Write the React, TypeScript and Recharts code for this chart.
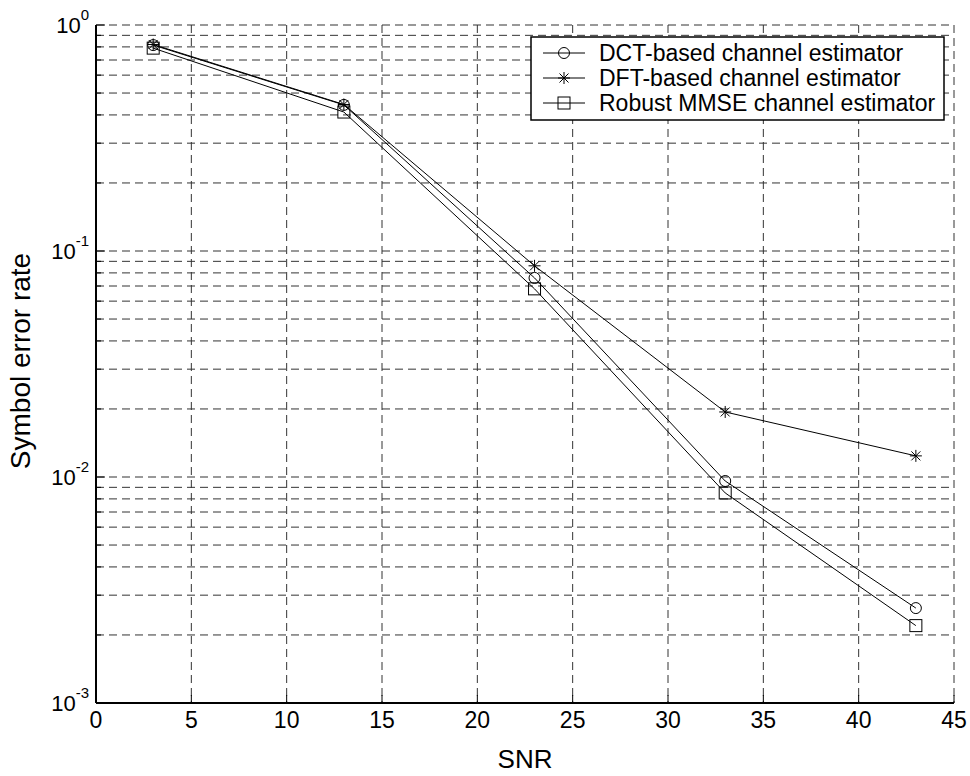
import { LineChart, Line, XAxis, YAxis, CartesianGrid, Legend } from 'recharts';

const FONT = '"Liberation Sans", Arial, Helvetica, sans-serif';

// SNR points and symbol error rates
const snr = [3, 13, 23, 33, 43];
const dctSer = [0.815, 0.443, 0.076, 0.0096, 0.00263];
const dftSer = [0.82, 0.445, 0.086, 0.0194, 0.0124];
const mmseSer = [0.79, 0.412, 0.068, 0.0085, 0.0022];

const xTicks = [0, 5, 10, 15, 20, 25, 30, 35, 40, 45];
const yTicks = [
  0.001, 0.002, 0.003, 0.004, 0.005, 0.006, 0.007, 0.008, 0.009,
  0.01, 0.02, 0.03, 0.04, 0.05, 0.06, 0.07, 0.08, 0.09,
  0.1, 0.2, 0.3, 0.4, 0.5, 0.6, 0.7, 0.8, 0.9,
  1,
];

const seriesNames = [
  'DCT-based channel estimator',
  'DFT-based channel estimator',
  'Robust MMSE channel estimator',
];

const data = snr.map((s, i) => ({ snr: s, dct: dctSer[i], dft: dftSer[i], mmse: mmseSer[i] }));

const isDecade = (v: number) => {
  const lg = Math.log10(v);
  return Math.abs(lg - Math.round(lg)) < 1e-9;
};

// markers
const circleMark = (cx: number, cy: number, key?: any) => (
  <circle key={key} cx={cx} cy={cy} r={5.5} fill="none" stroke="#000" strokeWidth={1} />
);
const squareMark = (cx: number, cy: number, key?: any) => (
  <rect key={key} x={cx - 6} y={cy - 6} width={12} height={12} fill="none" stroke="#000" strokeWidth={1} />
);
const starMark = (cx: number, cy: number, key?: any) => (
  <g key={key} stroke="#000" strokeWidth={1}>
    <line x1={cx - 6} y1={cy} x2={cx + 6} y2={cy} />
    <line x1={cx} y1={cy - 6} x2={cx} y2={cy + 6} />
    <line x1={cx - 4.5} y1={cy - 4.5} x2={cx + 4.5} y2={cy + 4.5} />
    <line x1={cx - 4.5} y1={cy + 4.5} x2={cx + 4.5} y2={cy - 4.5} />
  </g>
);

const markers = [circleMark, starMark, squareMark];

const dotOf = (mark: typeof circleMark) => (p: any) => {
  if (p.cx == null || p.cy == null) return <g key={p.key ?? p.index} />;
  return mark(p.cx, p.cy, p.key ?? `d${p.index}`);
};

function LeftTick(props: any) {
  const { x, y, payload } = props;
  const v = payload.value;
  const major = isDecade(v);
  const ex = Math.round(Math.log10(v));
  return (
    <g>
      <line x1={x} y1={y} x2={x + (major ? 9 : 5)} y2={y} stroke="#000" />
      {major && (
        <text x={x - 7} y={y + 8} textAnchor="end" fontSize={22} fontFamily={FONT} fill="#000">
          10
          <tspan dy={-13} fontSize={15}>
            {String(ex)}
          </tspan>
        </text>
      )}
    </g>
  );
}

function RightTick(props: any) {
  const { x, y, payload } = props;
  const major = isDecade(payload.value);
  return <line x1={x} y1={y} x2={x - (major ? 9 : 5)} y2={y} stroke="#000" />;
}

function BottomTick(props: any) {
  const { x, y, payload } = props;
  return (
    <g>
      <line x1={x} y1={y} x2={x} y2={y - 8} stroke="#000" />
      <text x={x} y={y + 25} textAnchor="middle" fontSize={23} fontFamily={FONT} fill="#000">
        {payload.value}
      </text>
    </g>
  );
}

function TopTick(props: any) {
  const { x, y } = props;
  return <line x1={x} y1={y} x2={x} y2={y + 8} stroke="#000" />;
}

function LegendBox() {
  const rows = [17, 42, 67];
  return (
    <svg width={416} height={86} style={{ display: 'block' }}>
      <rect x={1} y={1} width={413} height={83} fill="#fff" stroke="#000" strokeWidth={1.5} />
      {seriesNames.map((name, i) => (
        <g key={name}>
          <line x1={13} y1={rows[i]} x2={55} y2={rows[i]} stroke="#000" />
          {markers[i](34, rows[i])}
          <text x={69} y={rows[i] + 8} fontSize={23} fontFamily={FONT} fill="#000">
            {name}
          </text>
        </g>
      ))}
    </svg>
  );
}

export default function App() {
  return (
    <div style={{ width: 970, height: 776, position: 'absolute', left: 0, top: 0, background: '#fff' }}>
      <LineChart width={970} height={776} data={data} margin={{ top: 25, right: 16, left: 36, bottom: 0 }}>
        <CartesianGrid stroke="#333" strokeDasharray="8 5" strokeWidth={1} />
        <XAxis
          dataKey="snr"
          type="number"
          domain={[0, 45]}
          ticks={xTicks}
          interval={0}
          height={73}
          tickSize={0}
          tickMargin={0}
          tickLine={false}
          tick={<BottomTick />}
          axisLine={{ stroke: '#000', strokeWidth: 2 }}
          label={{ value: 'SNR', position: 'insideBottom', offset: 8, fontSize: 26, fontFamily: FONT, fill: '#000' }}
        />
        <XAxis
          xAxisId="top"
          orientation="top"
          dataKey="snr"
          type="number"
          domain={[0, 45]}
          ticks={xTicks}
          interval={0}
          height={0}
          tickSize={0}
          tickMargin={0}
          tickLine={false}
          tick={<TopTick />}
          axisLine={{ stroke: '#000', strokeWidth: 2 }}
        />
        <YAxis
          type="number"
          scale="log"
          domain={[0.001, 1]}
          allowDataOverflow
          ticks={yTicks}
          interval={0}
          width={60}
          tickSize={0}
          tickMargin={0}
          tickLine={false}
          tick={<LeftTick />}
          axisLine={{ stroke: '#000', strokeWidth: 2 }}
          label={{
            content: (p: any) => {
              const vb = p.viewBox || { x: 36, y: 25, width: 60, height: 678 };
              const cy = vb.y + vb.height / 2 - 3;
              return (
                <text
                  x={30}
                  y={cy}
                  transform={`rotate(-90 30 ${cy})`}
                  textAnchor="middle"
                  fontSize={28}
                  fontFamily={FONT}
                  fill="#000"
                >
                  Symbol error rate
                </text>
              );
            },
          }}
        />
        <YAxis
          yAxisId="right"
          orientation="right"
          type="number"
          scale="log"
          domain={[0.001, 1]}
          allowDataOverflow
          ticks={yTicks}
          interval={0}
          width={0}
          tickSize={0}
          tickMargin={0}
          tickLine={false}
          tick={<RightTick />}
          axisLine={{ stroke: '#000', strokeWidth: 2 }}
        />
        <Legend
          layout="vertical"
          align="center"
          verticalAlign="middle"
          content={() => <LegendBox />}
          wrapperStyle={{ left: 530, top: 36, width: 416, height: 86 }}
        />
        <Line
          dataKey="mmse"
          name={seriesNames[2]}
          stroke="#000"
          strokeWidth={1}
          dot={dotOf(squareMark)}
          activeDot={false}
          isAnimationActive={false}
        />
        <Line
          dataKey="dct"
          name={seriesNames[0]}
          stroke="#000"
          strokeWidth={1}
          dot={dotOf(circleMark)}
          activeDot={false}
          isAnimationActive={false}
        />
        <Line
          dataKey="dft"
          name={seriesNames[1]}
          stroke="#000"
          strokeWidth={1}
          dot={dotOf(starMark)}
          activeDot={false}
          isAnimationActive={false}
        />
      </LineChart>
    </div>
  );
}
